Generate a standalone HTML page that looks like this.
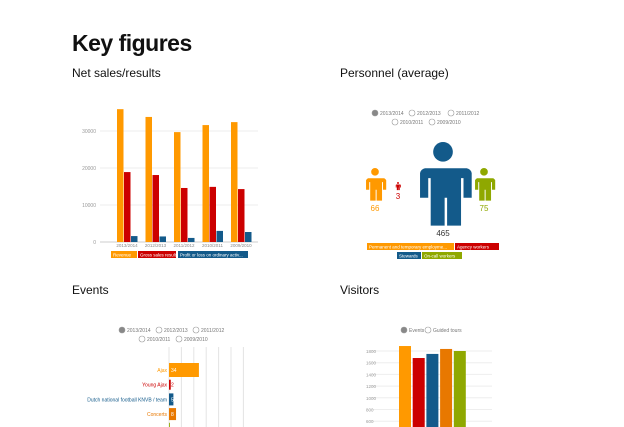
<!DOCTYPE html>
<html><head><meta charset="utf-8"><style>
body{margin:0;width:624px;height:427px;overflow:hidden;background:#fff;font-family:"Liberation Sans",sans-serif;position:relative}
.a{position:absolute}
h1{position:absolute;left:72px;top:30px;margin:0;font-size:23px;font-weight:bold;color:#111;letter-spacing:-0.5px}
.h{position:absolute;font-size:12px;color:#111}
</style></head><body>
<h1>Key figures</h1>
<div class="h" style="left:72px;top:66px">Net sales/results</div>
<div class="h" style="left:340px;top:66px">Personnel (average)</div>
<div class="h" style="left:72px;top:283px">Events</div>
<div class="h" style="left:340px;top:283px">Visitors</div>
<svg class="a" style="left:0;top:0" width="624" height="427" id="s" font-family="Liberation Sans, sans-serif"></svg>
<script>
const netCats=["2013/2014","2012/2013","2011/2012","2010/2011","2009/2010"];
const revenue=[35900,33800,29700,31600,32400];
const gross=[18900,18100,14600,14900,14300];
const profit=[1600,1500,1100,3000,2700];
const netTicks=[0,10000,20000,30000];
const visitors=[1885,1680,1750,1835,1800];
const visTicks=[600,800,1000,1200,1400,1600,1800];
const evCats=["Ajax","Young Ajax","Dutch national football KNVB / team","Concerts",""];
const evVals=[34,2,5,8,1];
const personnel=[66,3,465,75];
const NS="http://www.w3.org/2000/svg",s=document.getElementById('s');
function el(t,a,txt){const e=document.createElementNS(NS,t);for(const k in a)e.setAttribute(k,a[k]);if(txt!==undefined)e.textContent=txt;s.appendChild(e);return e;}
// Net sales
const ny=v=>242-v*0.0037, gx=i=>113+i*28.5;
netTicks.forEach(t=>{const g=el('line',{x1:100,x2:258,y1:ny(t),y2:ny(t),stroke:'#eee'});
const l=el('text',{x:96,y:ny(t)+2,'font-size':5,fill:'#999','text-anchor':'end'},t);});
el('line',{x1:100,x2:258,y1:242,y2:242,stroke:'#ccc'});
const cols=['#f90','#c00','#135a8a'];
[revenue,gross,profit].forEach((ser,j)=>ser.forEach((v,i)=>{const r=el('rect',{x:gx(i)+4+j*7,y:ny(v),width:6.5,height:242-ny(v),fill:cols[j]});}));
netCats.forEach((c,i)=>{const t=el('text',{x:gx(i)+14,y:247,'font-size':4.5,fill:'#888','text-anchor':'middle'},c);});
[['Revenue',111,26,'#f90'],['Gross sales result',138,38,'#c00'],['Profit or loss on ordinary activ...',178,70,'#135a8a']].forEach(([n,x,w,c])=>{const r=el('rect',{x:x,y:251,width:w,height:7,fill:c});el('text',{x:x+2,y:256.5,'font-size':4.5,fill:'#fff'},n);});
// radios
function radios(items,y){items.forEach(([lab,x],i)=>{const c=el('circle',{cx:x,cy:y,r:3,fill:i==0&&lab.startsWith('2013')||lab=='Events'?'#888':'#fff',stroke:'#999','stroke-width':0.6});el('text',{x:x+5,y:y+2,'font-size':5,fill:'#777'},lab);});}
radios([['2013/2014',375],['2012/2013',412],['2011/2012',451]],113);radios([['2010/2011',395],['2009/2010',432]],122);
radios([['2013/2014',122],['2012/2013',159],['2011/2012',196]],330);radios([['2010/2011',142],['2009/2010',179]],339);
radios([['Events',404],['Guided tours',428]],330);
// personnel icons
function person(cx,top,h,c,name){const k=h/100;const g=document.createElementNS(NS,'g');
g.innerHTML=`<circle cx="${cx}" cy="${top+12*k}" r="${12*k}" fill="${c}"/><path d="M${cx-29*k} ${top+32*k} h${58*k} a6 6 0 0 1 ${6*k} ${6*k} v${30*k} h${-10*k} v${-24*k} h${-3*k} v${58*k} h${-17*k} v${-34*k} h${-3*k} v${34*k} h${-17*k} v${-58*k} h${-3*k} v${24*k} h${-10*k} v${-30*k} a6 6 0 0 1 ${6*k} ${-6*k}z" fill="${c}"/>`;s.appendChild(g);}
person(443,142,82,'#135a8a','stewards-icon');person(375,168,32,'#f90','permanent-icon');person(484,168,32,'#8fa800','oncall-icon');person(398,182,8,'#c00','agency-icon');
[[personnel[0],375,211,'#f90'],[personnel[1],398,199,'#c00'],[personnel[2],443,236,'#333'],[personnel[3],484,211,'#8fa800']].forEach(([v,x,y,c])=>{const t=el('text',{x:x,y:y,'font-size':8,fill:c,'text-anchor':'middle'},v);});
[['Permanent and temporary employme...',367,243,87,'#f90'],['Agency workers',455,243,44,'#c00'],['Stewards',397,252,24,'#135a8a'],['On-call workers',422,252,40,'#8fa800']].forEach(([n,x,y,w,c])=>{const r=el('rect',{x:x,y:y,width:w,height:7,fill:c});el('text',{x:x+2,y:y+5.5,'font-size':4.5,fill:'#fff'},n);});
// events
const ex=v=>169+v*0.88, ey=i=>370+i*14.7;
for(let i=0;i<7;i++)el('line',{x1:169+i*12.4,x2:169+i*12.4,y1:347,y2:427,stroke:'#e4e4e4'});
const ecols=['#f90','#c00','#135a8a','#e87800','#8fa800'];
evVals.forEach((v,i)=>{const h=i==0?14:i==1?10:12;const r=el('rect',{x:169,y:ey(i)-h/2,width:ex(v)-169,height:h,fill:ecols[i]});
if(evCats[i]){el('text',{x:171,y:ey(i)+2,'font-size':5,fill:i==1?'#c00':'#fff'},v);const t=el('text',{x:167,y:ey(i)+2,'font-size':5,fill:ecols[i],'text-anchor':'end'},evCats[i]);}});
// visitors
const vy=v=>351-(v-1800)*0.0585;
visTicks.forEach(t=>{el('line',{x1:372,x2:492,y1:vy(t),y2:vy(t),stroke:'#eee'});const l=el('text',{x:366,y:vy(t)+2,'font-size':4.5,fill:'#999'},t);});
visitors.forEach((v,i)=>{const r=el('rect',{x:399+i*13.7,y:vy(v),width:12,height:430-vy(v),fill:ecols[i]});});
</script>
</body></html>
